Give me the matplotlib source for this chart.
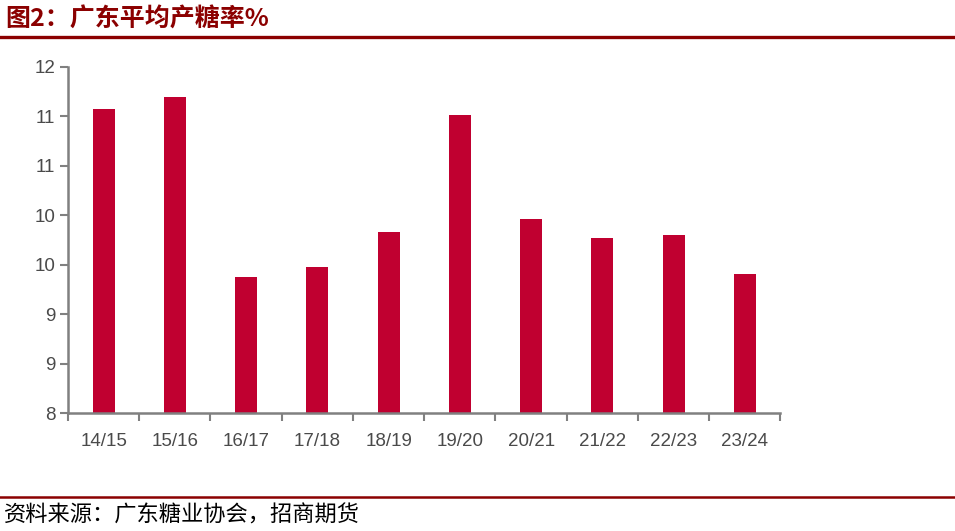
import math
import matplotlib
matplotlib.use('Agg')
import matplotlib.pyplot as plt
from matplotlib.lines import Line2D
from matplotlib.ticker import FuncFormatter, MultipleLocator

# Data
seasons = ['14/15', '15/16', '16/17', '17/18', '18/19',
           '19/20', '20/21', '21/22', '22/23', '23/24']
sugar_rate = [11.07, 11.19, 9.38, 9.48, 9.83, 11.01, 9.96, 9.77, 9.80, 9.41]

title = '图2：广东平均产糖率%'
source = '资料来源：广东糖业协会，招商期货'

plt.rcParams['font.family'] = ['Liberation Sans', 'Noto Sans CJK SC', 'DejaVu Sans']

fig = plt.figure(figsize=(9.55, 5.31), dpi=100)
ax = fig.add_axes([0.0712, 0.2217, 0.746, 0.6527])

x = list(range(len(seasons)))
ax.bar(x, sugar_rate, width=0.31, color='#C00030', zorder=2)

ax.set_xlim(-0.5, len(seasons) - 0.5)
ax.set_ylim(8, 11.5)
ax.yaxis.set_major_locator(MultipleLocator(0.5))
# Excel-style rounding of the tick labels (0 decimals)
ax.yaxis.set_major_formatter(FuncFormatter(lambda v, p: str(int(math.floor(v + 0.5)))))

ax.set_xticks([i - 0.5 for i in range(len(seasons) + 1)])
ax.set_xticklabels([])
ax.set_xticks(x, minor=True)
ax.set_xticklabels(seasons, minor=True)
ax.tick_params(axis='x', which='minor', length=0, pad=14, labelsize=13.5, labelcolor='#4a4a4a')
ax.tick_params(axis='x', which='major', length=6, width=1.5, color='#808080', direction='out')
ax.tick_params(axis='y', length=6, width=1.5, color='#808080', labelsize=13.5,
               labelcolor='#4a4a4a', pad=3)

for side in ['top', 'right']:
    ax.spines[side].set_visible(False)
for side in ['left', 'bottom']:
    ax.spines[side].set_color('#808080')
    ax.spines[side].set_linewidth(1.8)

# Title and source with red rules
fig.text(0.005, 0.963, title, fontsize=18, fontweight='bold', color='#8B0000',
         family=['Noto Sans CJK SC'], va='center', ha='left')
fig.add_artist(Line2D([0, 1], [0.930, 0.930], color='#8B0000', linewidth=2.4,
                      transform=fig.transFigure))
fig.add_artist(Line2D([0, 1], [0.064, 0.064], color='#8B0000', linewidth=1.8,
                      transform=fig.transFigure))
fig.text(0.004, 0.030, source, fontsize=16, color='black',
         family=['Noto Sans CJK SC'], va='center', ha='left')

fig.savefig('out.png', dpi=100)
